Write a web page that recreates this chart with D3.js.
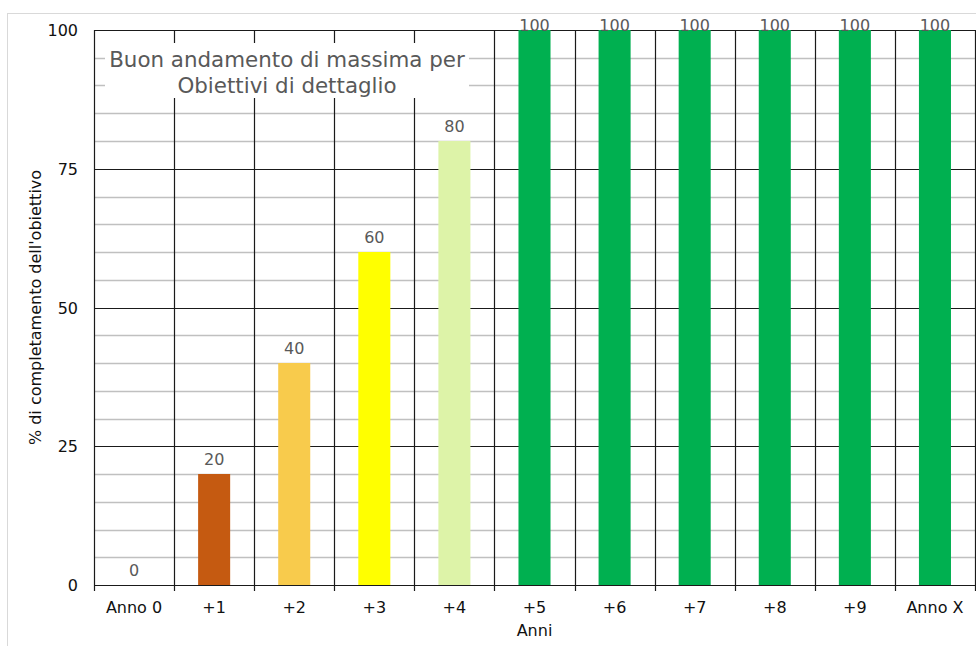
<!DOCTYPE html>
<html>
<head>
<meta charset="utf-8">
<script src="https://cdn.jsdelivr.net/npm/d3@7"></script>
<style>
  html, body { margin: 0; padding: 0; background: #fff; }
  svg { display: block; font-family: "DejaVu Sans", Verdana, sans-serif; }
</style>
</head>
<body>
<svg id="chart" width="976" height="646"></svg>
<script>
// Anni e percentuale di completamento dell'obiettivo
const categories = ["Anno 0", "+1", "+2", "+3", "+4", "+5", "+6", "+7", "+8", "+9", "Anno X"];
const values = [0, 20, 40, 60, 80, 100, 100, 100, 100, 100, 100];
const barColors = ["#C55A11", "#C55A11", "#F8CB4C", "#FFFF00", "#DDF3A8",
                   "#00B050", "#00B050", "#00B050", "#00B050", "#00B050", "#00B050"];
const majorTicks = [0, 25, 50, 75, 100];
const minorTicks = d3.range(0, 101, 5);
const titleLines = ["Buon andamento di massima per", "Obiettivi di dettaglio"];
const yTitle = "% di completamento dell'obiettivo";
const xTitle = "Anni";

const svg = d3.select("#chart");
const margin = { left: 94, right: 1, top: 30, bottom: 61 };
const W = 976, H = 646;
const fs = 16;

// chart-area border (top and left edges visible)
svg.append("rect")
  .attr("x", 7.5).attr("y", 13.5)
  .attr("width", 1000).attr("height", 700)
  .attr("fill", "none").attr("stroke", "#d9d9d9");

const x = d3.scaleBand()
  .domain(categories)
  .range([margin.left, W - margin.right])
  .paddingInner(0).paddingOuter(0);

const y = d3.scaleLinear()
  .domain([0, 100])
  .range([H - margin.bottom, margin.top]);

const g = svg.append("g");

// minor horizontal gridlines
g.append("g").selectAll("line")
  .data(minorTicks.filter(v => !majorTicks.includes(v)))
  .join("line")
  .attr("x1", x.range()[0]).attr("x2", x.range()[1])
  .attr("y1", d => Math.round(y(d)) + 0.5).attr("y2", d => Math.round(y(d)) + 0.5)
  .attr("stroke", "#c0c0c0").attr("stroke-width", 1.3);

// major horizontal gridlines
g.append("g").selectAll("line")
  .data(majorTicks)
  .join("line")
  .attr("x1", x.range()[0]).attr("x2", x.range()[1])
  .attr("y1", d => Math.round(y(d)) + 0.5).attr("y2", d => Math.round(y(d)) + 0.5)
  .attr("stroke", "#1a1a1a").attr("stroke-width", 1.2);

// vertical category separators
const bounds = categories.map(c => x(c)).concat([x.range()[1]]);
g.append("g").selectAll("line")
  .data(bounds)
  .join("line")
  .attr("x1", d => Math.round(d) + 0.5).attr("x2", d => Math.round(d) + 0.5)
  .attr("y1", y(100)).attr("y2", y(0) + 6)
  .attr("stroke", "#1a1a1a").attr("stroke-width", 1.2);

// title box over the grid
const titleBox = svg.append("g");
titleBox.append("rect")
  .attr("x", 105).attr("y", 43).attr("width", 364).attr("height", 55)
  .attr("fill", "#fff");
titleBox.selectAll("text")
  .data(titleLines)
  .join("text")
  .attr("x", 287)
  .attr("y", (d, i) => 66.5 + i * 26.5)
  .attr("text-anchor", "middle")
  .attr("font-size", 21.4)
  .attr("fill", "#595959")
  .text(d => d);

// bars
const barW = x.bandwidth() * 0.4;
svg.append("g").selectAll("rect")
  .data(values)
  .join("rect")
  .attr("x", (d, i) => x(categories[i]) + (x.bandwidth() - barW) / 2)
  .attr("y", d => y(d))
  .attr("width", barW)
  .attr("height", d => y(0) - y(d))
  .attr("fill", (d, i) => barColors[i]);

// value labels (kept inside the chart area near the top)
svg.append("g").selectAll("text")
  .data(values)
  .join("text")
  .attr("x", (d, i) => x(categories[i]) + x.bandwidth() / 2)
  .attr("y", d => Math.max(y(d) - 9, 31))
  .attr("text-anchor", "middle")
  .attr("font-size", fs)
  .attr("fill", "#595959")
  .text(d => d);

// y tick labels
svg.append("g").selectAll("text")
  .data(majorTicks)
  .join("text")
  .attr("x", 78)
  .attr("y", d => y(d) + 6)
  .attr("text-anchor", "end")
  .attr("font-size", fs)
  .attr("fill", "#111")
  .text(d => d);

// x tick labels
svg.append("g").selectAll("text")
  .data(categories)
  .join("text")
  .attr("x", d => x(d) + x.bandwidth() / 2)
  .attr("y", 613)
  .attr("text-anchor", "middle")
  .attr("font-size", fs)
  .attr("fill", "#111")
  .text(d => d);

// axis titles
svg.append("text")
  .attr("transform", `translate(41,${(y(0) + y(100)) / 2}) rotate(-90)`)
  .attr("text-anchor", "middle")
  .attr("font-size", fs)
  .attr("fill", "#111")
  .text(yTitle);

svg.append("text")
  .attr("x", (x.range()[0] + x.range()[1]) / 2)
  .attr("y", 636)
  .attr("text-anchor", "middle")
  .attr("font-size", fs)
  .attr("fill", "#111")
  .text(xTitle);
</script>
</body>
</html>
